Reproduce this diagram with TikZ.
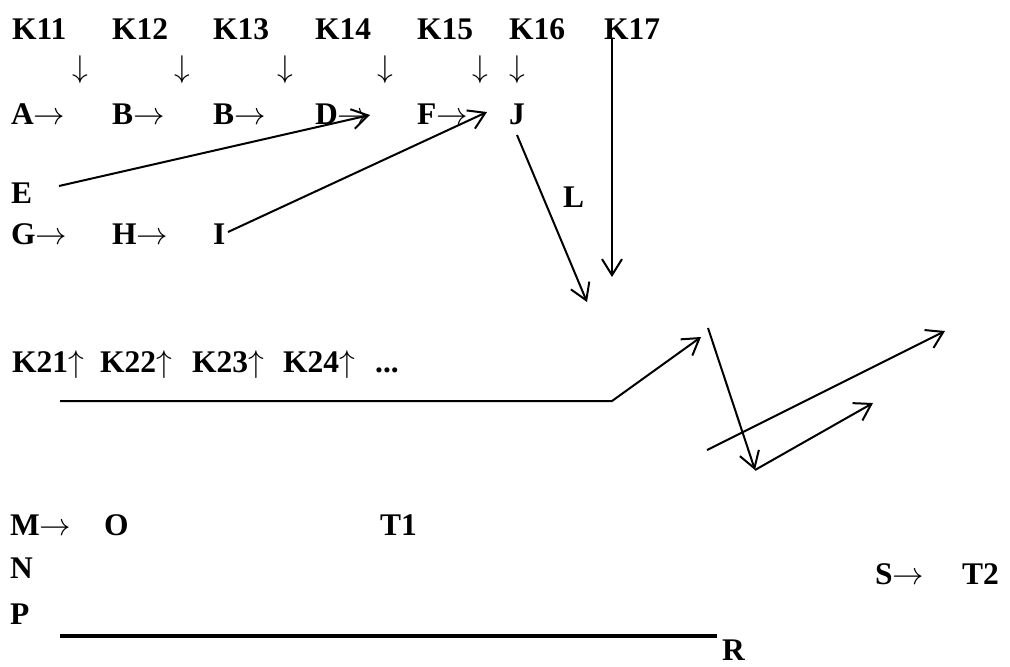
\RequirePackage{fix-cm}
\documentclass[tikz,border=0pt]{standalone}
\usepackage{fontspec}
\setmainfont{Liberation Serif}
\usetikzlibrary{arrows.meta}
\newcommand\rarr{$\rightarrow$}
\newcommand\uarr{$\uparrow$}
\tikzset{
  lbl/.style={anchor=base west, inner sep=0pt, font=\fontsize{31.5}{36}\selectfont\bfseries},
  darr/.style={inner sep=0pt, font=\fontsize{31.5}{36}\selectfont},
  conn/.style={line width=2pt, -{Straight Barb[length=16pt,width=20pt]}}
}
\begin{document}
\begin{tikzpicture}[x=1pt,y=-1pt]
  \useasboundingbox (0,0) rectangle (1010,667);
  % first key row
  \node[lbl] (k11) at (12,39) {K11};
  \node[lbl] (k12) at (112,39) {K12};
  \node[lbl] (k13) at (213,39) {K13};
  \node[lbl] (k14) at (315,39) {K14};
  \node[lbl] (k15) at (417,39) {K15};
  \node[lbl] (k16) at (509,39) {K16};
  \node[lbl] (k17) at (604,39) {K17};
  \node[darr] (dn1) at (80,70) {$\downarrow$};
  \node[darr] (dn2) at (182,70) {$\downarrow$};
  \node[darr] (dn3) at (285,70) {$\downarrow$};
  \node[darr] (dn4) at (385,70) {$\downarrow$};
  \node[darr] (dn5) at (480,70) {$\downarrow$};
  \node[darr] (dn6) at (517,70) {$\downarrow$};
  % chain
  \node[lbl] (a) at (11,124) {A\rarr};
  \node[lbl] (b1) at (112,124) {B\rarr};
  \node[lbl] (b2) at (213,124) {B\rarr};
  \node[lbl] (d) at (315,124) {D\rarr};
  \node[lbl] (f) at (417,124) {F\rarr};
  \node[lbl] (j) at (509,124) {J};
  \node[lbl] (e) at (11,203) {E};
  \node[lbl] (g) at (11,244) {G\rarr};
  \node[lbl] (h) at (112,244) {H\rarr};
  \node[lbl] (i) at (213,244) {I};
  \node[lbl] (l) at (563,207) {L};
  % second key row
  \node[lbl] (k21) at (12,372) {K21\uarr};
  \node[lbl] (k22) at (100,372) {K22\uarr};
  \node[lbl] (k23) at (192,372) {K23\uarr};
  \node[lbl] (k24) at (283,372) {K24\uarr};
  \node[lbl] (dots) at (375,372) {...};
  % bottom
  \node[lbl] (m) at (10,535) {M\rarr};
  \node[lbl] (o) at (104,535) {O};
  \node[lbl] (t1) at (380,535) {T1};
  \node[lbl] (n) at (10,578) {N};
  \node[lbl] (s) at (875,584) {S\rarr};
  \node[lbl] (t2) at (962,584) {T2};
  \node[lbl] (p) at (10,624) {P};
  \node[lbl] (r) at (722,660) {R};
  % line ends
  \coordinate (k17-top) at (612,38);
  \coordinate (k17-tip) at (612,277);
  \coordinate (e-from) at (59,186);
  \coordinate (d-tip) at (370,115);
  \coordinate (i-from) at (228,232);
  \coordinate (f-tip) at (487,112);
  \coordinate (j-from) at (517,135);
  \coordinate (j-tip) at (587,302);
  \coordinate (run-from) at (60,401);
  \coordinate (run-bend) at (612,401);
  \coordinate (run-tip) at (701,337);
  \coordinate (zig-top) at (708,328);
  \coordinate (zig-low) at (755,470);
  \coordinate (zig-tip) at (873,403);
  \coordinate (long-from) at (707,450);
  \coordinate (long-tip) at (945,331);
  \coordinate (bar-from) at (60,636);
  \coordinate (bar-to) at (717,636);
  \draw[conn] (k17-top) -- (k17-tip);
  \draw[conn] (e-from) -- (d-tip);
  \draw[conn] (i-from) -- (f-tip);
  \draw[conn] (j-from) -- (j-tip);
  \draw[conn] (run-from) -- (run-bend) -- (run-tip);
  \draw[conn] (zig-top) -- (zig-low);
  \draw[conn] (zig-low) -- (zig-tip);
  \draw[conn] (long-from) -- (long-tip);
  \draw[line width=4.5pt] (bar-from) -- (bar-to);
\end{tikzpicture}
\end{document}
